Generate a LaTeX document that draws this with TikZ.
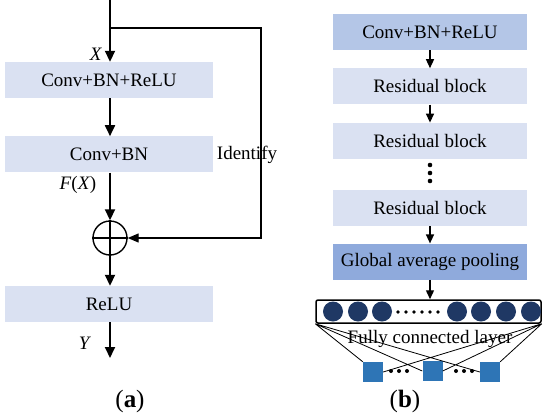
\documentclass[tikz,border=0pt]{standalone}
\usepackage{fontspec}
\setmainfont{Liberation Serif}
\usepackage{xcolor}
\usetikzlibrary{arrows.meta, positioning}

\definecolor{boxlight}{HTML}{DAE1F2}
\definecolor{boxmid}{HTML}{B4C6E7}
\definecolor{boxdark}{HTML}{8FAADC}
\definecolor{unitblue}{HTML}{1F3864}
\definecolor{outblue}{HTML}{2E75B6}

\begin{document}
\begin{tikzpicture}[x=1pt, y=1pt,
    every node/.style={font=\fontsize{19}{22}\selectfont, inner sep=0pt},
    lbox/.style={fill=boxlight, minimum width=208pt, minimum height=36pt},
    rbox/.style={fill=boxlight, minimum width=194pt, minimum height=36pt},
    flow/.style={line width=1.8pt, -{Triangle[length=11pt, width=10pt]}},
    rflow/.style={line width=1.4pt, -{Triangle[length=9pt, width=8pt]}},
    unit/.style={circle, fill=unitblue, minimum size=20pt},
    outsq/.style={fill=outblue, minimum size=20pt},
    caption/.style={font=\fontsize{25}{28}\selectfont}]
    \useasboundingbox (0,0) rectangle (550,-418);

    % (a) residual block
    \coordinate (in) at (110,0);
    \coordinate (split) at (110,-28);
    \node[lbox] (cbr) at (109,-80) {Conv+BN+ReLU};
    \node[lbox, below=38pt of cbr] (cb) {Conv+BN};
    \node[circle, draw, line width=1.4pt, minimum size=34pt] (add) at (110,-238) {};
    \node[lbox] (relu) at (109,-304) {ReLU};
    \coordinate (y) at (110,-358);
    \coordinate (corner1) at (261,-28);
    \coordinate (corner2) at (261,-238);

    \draw[flow] (in) -- (in |- cbr.north);
    \draw[flow] (cbr.south -| in) -- (cb.north -| in);
    \draw[flow] (cb.south -| in) -- (add.north);
    \draw[line width=1.4pt] (add.north) -- (add.south) (add.west) -- (add.east);
    \draw[flow] (add.south) -- (relu.north -| add);
    \draw[flow] (relu.south -| add) -- (y);
    \draw[line width=1.2pt, -{Triangle[length=11pt, width=9pt]}] (split) -- (corner1) -- (corner2) -- (add.east);

    \node (xlab) at (96,-54) {\textit{X}};
    \node (fxlab) at (78,-185) {\textit{F}(\textit{X})};
    \node (ylab) at (85,-343) {\textit{Y}};
    \node (idlab) at (247,-155) {Identify};
    \node[caption] (capa) at (130,-401) {(\textbf{a})};

    % (b) network
    \node[rbox, fill=boxmid] (stem) at (430,-32) {Conv+BN+ReLU};
    \node[rbox, below=18pt of stem] (res1) {Residual block};
    \node[rbox, below=18pt of res1] (res2) {Residual block};
    \node[rbox, below=31pt of res2] (res3) {Residual block};
    \node[rbox, fill=boxdark, below=17pt of res3] (gap) {Global average pooling};
    \node[draw, line width=1.5pt, rounded corners=2pt, minimum width=225pt, minimum height=23pt] (fc) at (428.5,-311.5) {};

    \draw[rflow] (stem) -- (res1);
    \draw[rflow] (res1) -- (res2);
    \draw[rflow] (res3) -- (gap);
    \draw[rflow] (gap) -- (fc.north -| gap);
    \foreach \yy in {-165,-173,-181}
        \fill (430,\yy) circle (2.3pt);

    \foreach \xx [count=\i] in {333,358,382,457,481,506,531}
        \node[unit] (u\i) at (\xx,-311.5) {};
    \foreach \xx in {398,406,414,422,430,438}
        \fill (\xx,-312) circle (1.8pt);

    \node (fclab) at (430,-339) {Fully connected layer};
    \node[outsq] (o1) at (373,-372) {};
    \node[outsq] (o2) at (432.5,-371) {};
    \node[outsq] (o3) at (490,-372) {};
    \foreach \xx in {391,399,407,456,464,472}
        \fill (\xx,-371) circle (2pt);

    \draw[line width=0.8pt] (fc.south west) -- (o1.north west)
        (fc.south west) -- (o2.west)
        (fc.south west) -- (o3.west)
        (fc.south east) -- (o3.north east)
        (fc.south east) -- (o2.east)
        (fc.south east) -- (o1.east);

    \node[caption] (capb) at (405,-401) {(\textbf{b})};
\end{tikzpicture}
\end{document}
